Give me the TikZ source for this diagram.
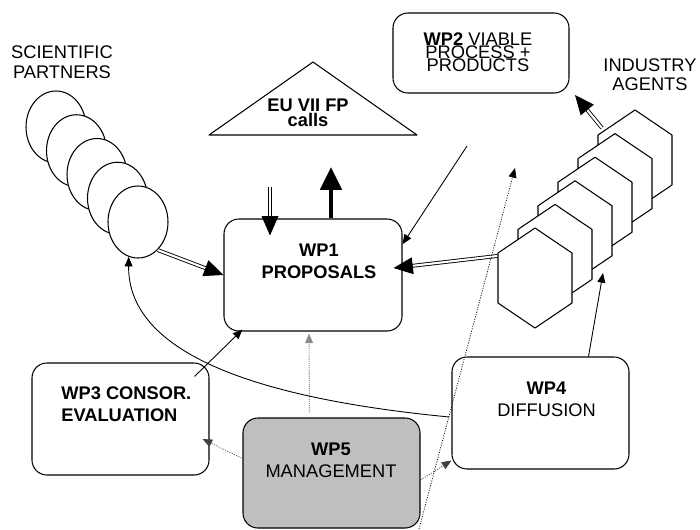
\documentclass[tikz,border=0pt]{standalone}
\usepackage{fontspec}
\setmainfont{Liberation Sans}
\usetikzlibrary{calc}
\usetikzlibrary{arrows.meta}
\usetikzlibrary{shapes.geometric}
\newcommand{\pxu}{0.02cm}

\begin{document}
\begin{tikzpicture}[x=0.02cm, y=-0.02cm, line join=round,
  wpbox/.style={draw, rounded corners=8.5pt, line width=0.6pt, minimum width=177*\pxu, minimum height=112*\pxu, inner sep=0pt},
  wptext/.style={align=center, inner sep=0pt, font=\fontsize{10.4}{12.3}\selectfont},
  arrowthin/.style={-{Triangle[length=5.5pt, width=4.5pt]}, line width=0.5pt},
  arrowdbl/.style={-{Triangle[length=11pt, width=9.5pt]}, double, double distance=1.2pt, line width=0.5pt},
  arrowthick/.style={-{Triangle[length=13pt, width=12pt]}, line width=2.5pt},
  arrowdot/.style={-{Triangle[length=5.5pt, width=4.5pt]}, black!75, line width=0.4pt, dash pattern=on 0.6pt off 0.8pt},
  arrowgray/.style={-{Triangle[length=5.5pt, width=4.5pt]}, black!45, line width=0.6pt, dash pattern=on 0.6pt off 0.6pt}]
\useasboundingbox (0,0) rectangle (700,529);
\node[wptext, font=\fontsize{10.4}{11.3}\selectfont] (sptext) at (62,62) {SCIENTIFIC\\PARTNERS};
\node[wptext, font=\fontsize{10.4}{10.8}\selectfont] (iatext) at (650,75) {INDUSTRY\\AGENTS};
\foreach \i in {1,...,5}
  \node[draw, ellipse, fill=white, line width=0.6pt, minimum width=60*\pxu, minimum height=72*\pxu, inner sep=0pt] (sp\i) at ({56+20.5*(\i-1)},{127+23.75*(\i-1)}) {};
\foreach \i in {1,...,6}{
  \coordinate (ia\i) at ({635-20*(\i-1)},{160+23.6*(\i-1)});
  \draw[fill=white, line width=0.6pt] ($(ia\i)+(0,-50)$) -- ++(37,25) -- ++(0,50) -- ++(-37,25) -- ++(-37,-25) -- ++(0,-50) -- cycle;
}
\draw[line width=0.6pt] (209,135) -- (313,62) -- (417,135) -- cycle;
\node[wptext, font=\fontsize{10.4}{7.4}\selectfont] (eu) at (308,113) {\textbf{EU VII FP}\\\textbf{calls}};
\node[wpbox, minimum width=176*\pxu, minimum height=80*\pxu] (wp2) at (481,53) {};
\node[wptext, font=\fontsize{10.4}{7.4}\selectfont] (wp2text) at (478,52) {\textbf{WP2} VIABLE\\PROCESS +\\PRODUCTS};
\node[wpbox, minimum width=178*\pxu] (wp1) at (313,275) {};
\node[wptext, font=\fontsize{10.4}{12.5}\selectfont] (wp1text) at (319,261) {\textbf{WP1}\\\textbf{PROPOSALS}};
\node[wpbox] (wp3) at (120.5,419) {};
\node[wptext, align=left, anchor=west] (wp3text) at (61,404.5) {\textbf{WP3 CONSOR.}\\\textbf{EVALUATION}};
\node[wpbox] (wp4) at (540.5,413) {};
\node[wptext, font=\fontsize{10.4}{12.5}\selectfont] (wp4text) at (546.5,399.5) {\textbf{WP4}\\DIFFUSION};
\node[wpbox, fill=black!25, minimum height=110*\pxu] (wp5) at (331.5,473) {};
\node[wptext] (wp5text) at (331,460.5) {\textbf{WP5}\\MANAGEMENT};
\draw[arrowdbl] (sp5.-55) -- (wp1.west);
\coordinate (euin) at (270,187);
\draw[arrowdbl] (euin) -- ($(euin |- wp1.north)+(0,17)$);
\coordinate (euout) at (331,167);
\draw[arrowthick] (euout |- wp1.north) -- (euout);
\coordinate (wp2out) at (467,146);
\draw[arrowthin] (wp2out) -- (wp1.19);
\draw[arrowdbl] ($(ia6)+(-38,-22)$) -- ($(wp1.east)+(-9,-7)$);
\coordinate (wp2in) at (575,95);
\draw[arrowdbl] ($(ia1)+(-33,-32)$) -- (wp2in);
\coordinate (iain) at (603,273);
\draw[arrowthin] ($(wp4.north)+(48,0)$) -- (iain);
\coordinate (mstart) at (419,529);
\coordinate (mend) at (515,168);
\draw[arrowdot, black] (mstart) -- (mend);
\draw[arrowdot] ($(wp5.east)+(0,7)$) -- ($(wp4.south west)+(0,-9)$);
\draw[arrowdot] ($(wp5.west)+(-1,-15)$) -- ($(wp3.east)+(-7,20)$);
\draw[arrowgray] ($(wp5.north)+(-22,-5)$) -- ($(wp1.south)+(-4,2)$);
\draw[arrowthin] ($(wp3.north east)+(-15,14)$) -- ($(wp1.south west)+(19,-2)$);
\draw[arrowthin] ($(wp4.west)+(-2,4)$) .. controls (220,395) and (128,340) .. (sp5.-105);
\end{tikzpicture}
\end{document}
